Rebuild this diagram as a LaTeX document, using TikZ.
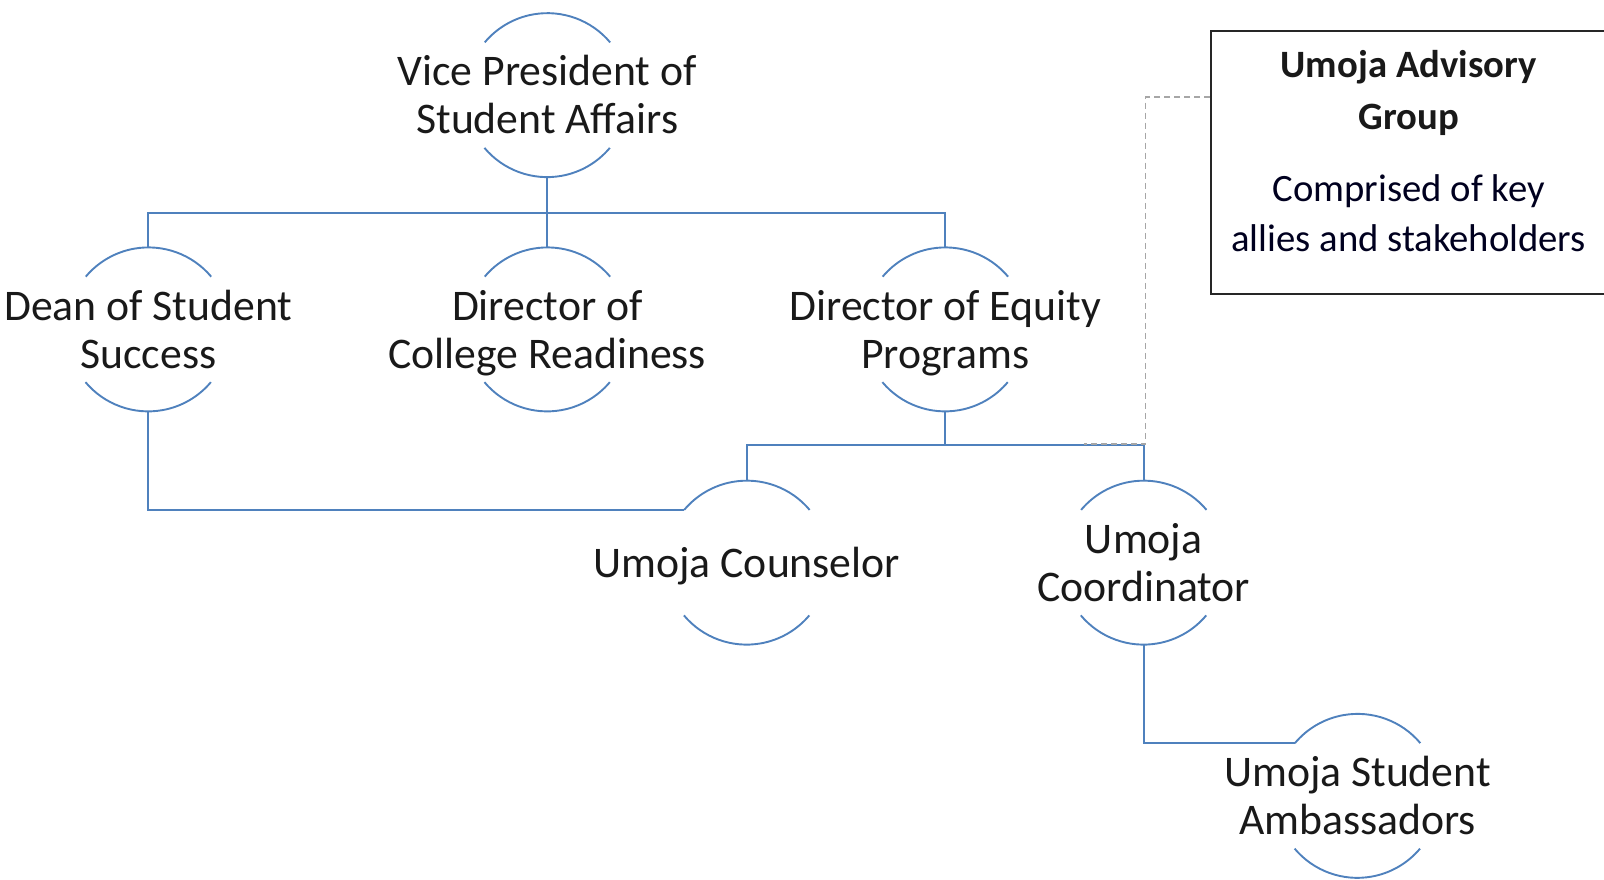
\documentclass[tikz,border=0pt]{standalone}
\usepackage{fontspec}
\setmainfont{Carlito}
\begin{document}
\begin{tikzpicture}[x=1.0229pt,y=1.0229pt,
  ring/.style={circle,minimum size=163.7pt,inner sep=0pt,draw=none},
  arcline/.style={draw=orgblue,line width=1.9pt},
  conn/.style={draw=orgblue,line width=1.9pt},
  lbl/.style={align=center,inner sep=0pt,font=\fontsize{43.7}{48}\selectfont,text=black!90},
  advbox/.style={draw=black!85,line width=1.9pt,minimum width=440pt,minimum height=263pt,inner sep=0pt},
  dashline/.style={draw=black!35,line width=1.4pt,dash pattern=on 6pt off 4pt},
]
\definecolor{orgblue}{RGB}{79,129,189}
\useasboundingbox (0,0) rectangle (1568,-859.3);
\clip (0,0) rectangle (1568,-859.3);

% ring nodes
\node[ring] (vp)  at (535,-93) {};
\node[ring] (dean) at (145,-322) {};
\node[ring] (col) at (535,-322) {};
\node[ring] (eq)  at (924,-322) {};
\node[ring] (cou) at (730,-550) {};
\node[ring] (coo) at (1118,-550) {};
\node[ring] (amb) at (1327,-778) {};

\foreach \n in {vp,dean,col,eq,cou,coo,amb}{
  \draw[arcline] (\n.40) arc[start angle=40,end angle=140,radius=81.85pt];
  \draw[arcline] (\n.220) arc[start angle=220,end angle=320,radius=81.85pt];
}

% labels
\node[lbl,yshift=1pt] (vpt) at (vp) {Vice President of\\Student Affairs};
\node[lbl] (deant) at (dean) {Dean of Student\\Success};
\node[lbl,yshift=-3.5pt] (colt) at (col) {Director of\\College Readiness};
\node[lbl,yshift=-3.5pt] (eqt) at (eq) {Director of Equity\\Programs};
\node[lbl,yshift=-3pt] (cout) at (cou) {Umoja Counselor};
\node[lbl] (coot) at (coo) {Umoja\\Coordinator};
\node[lbl] (ambt) at (amb) {Umoja Student\\Ambassadors};

% connectors
\coordinate (bus1) at (535,-208);
\coordinate (bus2) at (924,-435);
\draw[conn] (vp.south) -- (col.north);
\draw[conn] (bus1) -| (dean.north);
\draw[conn] (bus1) -| (eq.north);
\draw[conn] (eq.south) -- (bus2);
\draw[conn] (bus2) -| (cou.north);
\draw[conn] (bus2) -| (coo.north);
\draw[conn] (dean.south) |- (cou.140);
\draw[conn] (coo.south) |- (amb.140);

% advisory box
\node[advbox] (box) at (1399,-158.5) {};
\node[align=center,inner sep=0pt,font=\fontsize{38.7}{52}\selectfont\bfseries,text=black!90] (boxt1) at (1377,-90.5) {Umoja Advisory\\Group};
\node[align=center,inner sep=0pt,font=\fontsize{38.7}{50}\selectfont,text=black!88!blue] (boxt2) at (1377,-208.5) {Comprised of key\\allies and stakeholders};
\coordinate (dk) at (1120,-434);
\coordinate (dend) at (1060,-434);
\draw[dashline] (box.west |- 0,-95) -| (dk) -- (dend);
\end{tikzpicture}
\end{document}
